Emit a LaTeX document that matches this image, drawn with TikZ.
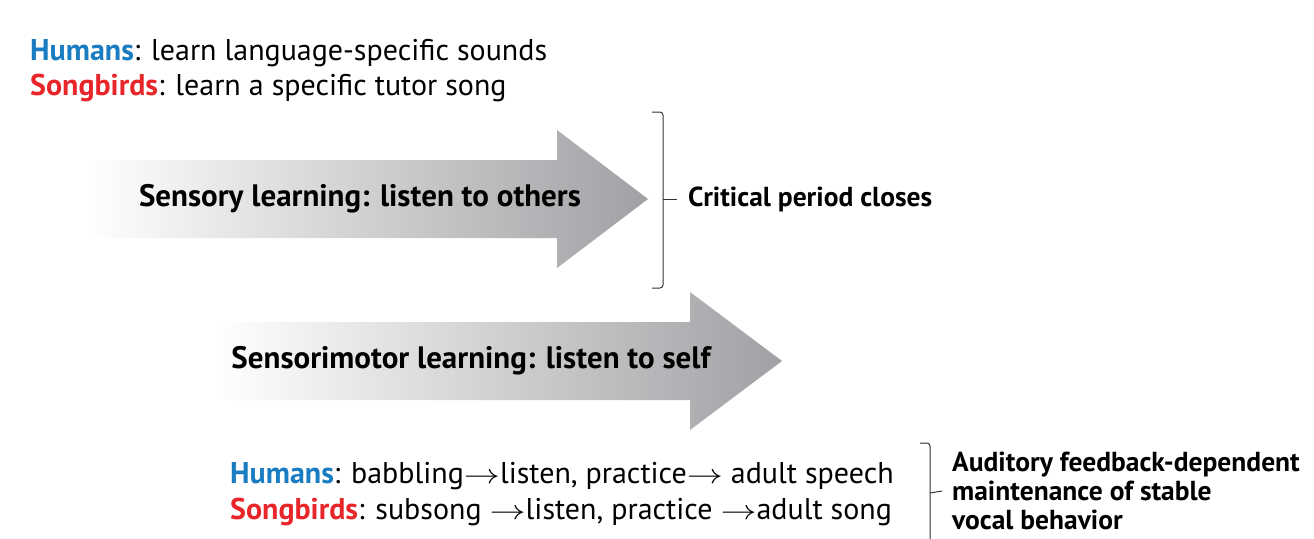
\documentclass[tikz,border=0pt]{standalone}
\usepackage{fontspec}
\setmainfont{PT Sans}
\usetikzlibrary{positioning}
\definecolor{humanblue}{RGB}{26,124,193}
\definecolor{birdred}{RGB}{232,38,42}
\definecolor{arrowgray}{RGB}{160,161,164}
\newcommand{\stepto}{\scalebox{1.45}[1.1]{$\rightarrow$}}

\begin{document}
\begin{tikzpicture}[
      x=1pt, y=-1pt,
      plain/.style={font=\fontsize{30}{34}\selectfont, inner sep=0pt, anchor=west},
      stage/.style={font=\fontsize{31}{34}\selectfont\bfseries, inner sep=0pt},
      note/.style={font=\fontsize{27.5}{29}\selectfont\bfseries, inner sep=0pt, anchor=west, align=left},
      bigarrow/.style={left color=white, right color=arrowgray, draw=none},
      brace/.style={line width=1pt, black!80, rounded corners=3pt}
    ]
    \useasboundingbox (0,0) rectangle (1314,538);

    % Fase sensoriale
    \node[plain] (hum1) at (30,53) {\textcolor{humanblue}{\textbf{Humans}}: learn language-specific sounds};
    \node[plain] (bird1) at (30,88) {\textcolor{birdred}{\textbf{Songbirds}}: learn a specific tutor song};

    \path[bigarrow] (85,160) -- (557,160) -- (557,130) -- (648,199) -- (557,268) -- (557,238) -- (85,238) -- cycle;
    \node[stage] (sensory) at (360,199) {Sensory learning: listen to others};

    % Parentesi: chiusura del periodo critico
    \draw[brace] (652,112) -- (663,112) -- (663,288) -- (652,288);
    \coordinate (b1) at (663,199);
    \node[note] (closes) at (688,199) {Critical period closes};
    \draw[line width=1pt, black!80] (b1) -- ([xshift=-11pt]closes.west);

    % Fase sensorimotoria
    \path[bigarrow] (215,322) -- (690,322) -- (690,292) -- (782,361) -- (690,430) -- (690,400) -- (215,400) -- cycle;
    \node[stage] (motor) at (471,361) {Sensorimotor learning: listen to self};

    \node[plain] (hum2) at (230,476) {\textcolor{humanblue}{\textbf{Humans}}: babbling\stepto listen, practice\stepto\ adult speech};
    \node[plain] (bird2) at (230,512) {\textcolor{birdred}{\textbf{Songbirds}}: subsong \stepto listen, practice \stepto adult song};

    % Parentesi: mantenimento
    \draw[brace] (920,443) -- (930,443) -- (930,545);
    \coordinate (b2) at (930,493);
    \node[note] (keep) at (952,491) {Auditory feedback-dependent\\maintenance of stable\\vocal behavior};
    \draw[line width=1pt, black!80] (b2) -- ([xshift=-10pt]keep.west);
  \end{tikzpicture}
\end{document}
